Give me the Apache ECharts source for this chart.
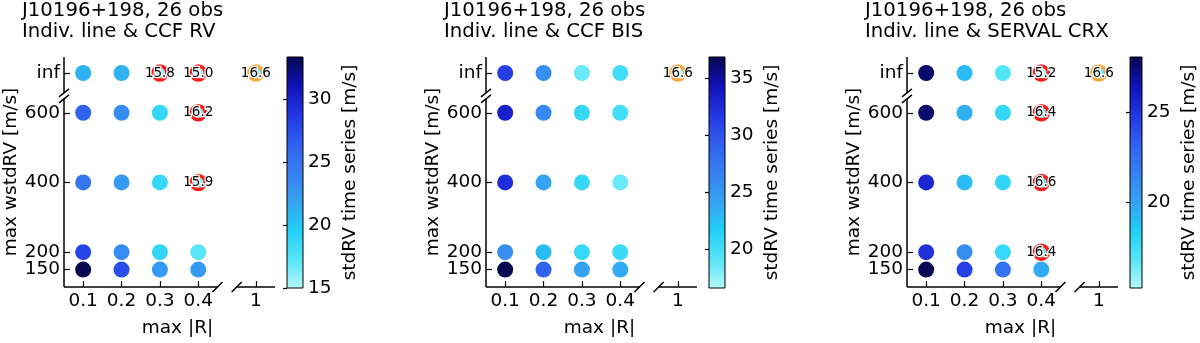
<!DOCTYPE html>
<html>
<head>
<meta charset="utf-8">
<script src="https://cdn.jsdelivr.net/npm/echarts@6/dist/echarts.min.js"></script>
<style>html,body{margin:0;padding:0;background:#fff}#c{width:1200px;height:343px}</style>
</head>
<body>
<div id="c"></div>
<script>
// ---------- data ----------
const titles = [
  'J10196+198, 26 obs\nIndiv. line & CCF RV',
  'J10196+198, 26 obs\nIndiv. line & CCF BIS',
  'J10196+198, 26 obs\nIndiv. line & SERVAL CRX'
];
const maxR = [0.1, 0.2, 0.3, 0.4];          // x categories
const maxWstdRV = [150, 200, 400, 600];     // y categories (finite)
const refRLabel = '1';
const infLabel = 'inf';
// rows: 150, 200, 400, 600, inf ; columns: maxR 0.1..0.4
const stdRV_ccfRV = [
  [33.4, 27.5, 22.4, 22.4],
  [27.9, 23.3, 19.0, 17.2],
  [25.0, 22.4, 18.7, 15.9],
  [26.4, 23.3, 18.7, 16.2],
  [21.1, 21.1, 15.8, 15.0]
];
const stdRV_ccfBIS = [
  [36.9, 29.2, 24.1, 23.7],
  [25.7, 22.7, 20.7, 20.5],
  [32.4, 24.1, 20.7, 18.6],
  [33.2, 26.1, 20.7, 20.1],
  [31.2, 25.7, 18.6, 20.1]
];
const stdRV_servalCRX = [
  [28.1, 24.5, 22.3, 19.8],
  [25.1, 21.0, 17.8, 16.4],
  [25.5, 19.1, 18.0, 16.6],
  [27.7, 19.5, 17.8, 16.4],
  [27.7, 19.1, 16.9, 15.2]
];
const refStdRV = [16.6, 16.6, 16.6];
const cbMin = [15.0, 16.6, 15.2];
const cbMax = [33.4, 36.9, 28.1];
const cbTicks = [[15, 20, 25, 30], [20, 25, 30, 35], [20, 25]];
const panelValues = [stdRV_ccfRV, stdRV_ccfBIS, stdRV_servalCRX];

// ---------- layout / scale config ----------
const FONT = 'DejaVu Sans';
const FS = 18.5;
const X_MIN = 0.05, X_MAX = 0.6, X_REF_POS = 0.55, X_BRK = [0.45, 0.50];
const Y_MIN = 100, Y_MAX = 760, Y_INF_POS = 714, Y_BRK = [640, 657];
const OFFS = [0, 422, 843];
const DOT = 16;
const RING = 14;
const cmap = ['#b3f8f8', '#56e5f8', '#22cff6', '#35a2f2', '#3680f1', '#3060ef', '#2336e2', '#0f12b8', '#070752'];

const chart = echarts.init(document.getElementById('c'));
const option = {
  animation: false,
  backgroundColor: '#fff',
  textStyle: { fontFamily: FONT },
  title: [], grid: [], xAxis: [], yAxis: [], series: [], visualMap: []
};

function fmtX(v) { return Math.abs(v - X_REF_POS) < 1e-9 ? refRLabel : v.toFixed(1); }
function fmtY(v) { return Math.abs(v - Y_INF_POS) < 1e-9 ? infLabel : String(v); }
const lblBase = { show: true, hideOverlap: false, showMinLabel: true, showMaxLabel: true, fontFamily: FONT, fontSize: FS, color: '#000' };

panelValues.forEach((vals, p) => {
  const o = OFFS[p];
  option.title.push({
    text: titles[p], left: 22 + o, top: 0, padding: 0,
    textStyle: { fontFamily: FONT, fontSize: 19.7, fontWeight: 'normal', color: '#000', lineHeight: 21 }
  });
  const gi = option.grid.length;
  option.grid.push({ left: 64 + o, top: 57, width: 211, height: 231 });
  option.grid.push({ left: 287 + o, top: 57, width: 16, height: 231, show: true, borderColor: '#000', borderWidth: 1, backgroundColor: 'transparent', z: 5 });
  const xTicks = maxR.concat([X_REF_POS]);
  const yTicks = maxWstdRV.concat([Y_INF_POS]);
  const xi = option.xAxis.length;
  option.xAxis.push({
    type: 'value', gridIndex: gi, min: X_MIN, max: X_MAX,
    name: 'max |R|', nameLocation: 'middle', nameGap: 32,
    nameTextStyle: { fontFamily: FONT, fontSize: FS, color: '#000', padding: [0, 0, 0, 16] },
    axisLine: { show: false }, splitLine: { show: false },
    axisTick: { show: true, inside: true, length: 6, customValues: xTicks, lineStyle: { color: '#000', width: 1.2 } },
    axisLabel: Object.assign({}, lblBase, { customValues: xTicks, formatter: fmtX, margin: 5 })
  });
  option.xAxis.push({ type: 'value', gridIndex: gi + 1, min: 0, max: 1, show: false });
  const yi = option.yAxis.length;
  // main y axis: ticks for all, labels for all but the lowest
  option.yAxis.push({
    type: 'value', gridIndex: gi, min: Y_MIN, max: Y_MAX, position: 'left', offset: 0,
    name: 'max wstdRV [m/s]', nameLocation: 'middle', nameGap: 42, nameRotate: 90,
    nameTextStyle: { fontFamily: FONT, fontSize: FS, color: '#000' },
    axisLine: { show: false }, splitLine: { show: false },
    axisTick: { show: true, inside: true, length: 6, customValues: yTicks, lineStyle: { color: '#000', width: 1.2 } },
    axisLabel: Object.assign({}, lblBase, { customValues: yTicks.slice(1), formatter: fmtY, margin: 4 })
  });
  // colorbar axis
  option.yAxis.push({
    type: 'value', gridIndex: gi + 1, position: 'right', min: cbMin[p], max: cbMax[p],
    name: 'stdRV time series [m/s]', nameLocation: 'middle', nameGap: 38, nameRotate: 90,
    nameTextStyle: { fontFamily: FONT, fontSize: FS, color: '#000' },
    axisLine: { show: false }, splitLine: { show: false },
    axisTick: { show: true, inside: true, length: 4, customValues: cbTicks[p], lineStyle: { color: '#000', width: 1.2 } },
    axisLabel: Object.assign({}, lblBase, { customValues: cbTicks[p], margin: 5 })
  });
  // companion y axis carrying only the lowest label (avoids overlap hiding)
  option.yAxis.push({
    type: 'value', gridIndex: gi, min: Y_MIN, max: Y_MAX, position: 'left', offset: 0,
    axisLine: { show: false }, splitLine: { show: false }, axisTick: { show: false },
    axisLabel: Object.assign({}, lblBase, { customValues: yTicks.slice(0, 1), formatter: fmtY, margin: 4 })
  });

  const ref = refStdRV[p];
  const normal = [], marked = [];
  const rows = maxWstdRV.concat([Y_INF_POS]);
  vals.forEach((row, ri) => {
    row.forEach((v, ci) => {
      const pt = [maxR[ci], rows[ri], v];
      if (v <= ref) marked.push(pt); else normal.push(pt);
    });
  });
  const sBase = option.series.length;
  const lbl = {
    show: true, position: 'inside', formatter: (d) => d.value[2].toFixed(1),
    fontFamily: FONT, fontSize: 13.5, color: '#000', textBorderColor: '#fff', textBorderWidth: 2.5
  };
  option.series.push({
    type: 'scatter', xAxisIndex: xi, yAxisIndex: yi, data: normal, symbolSize: DOT, z: 3,
    itemStyle: { opacity: 1 }, silent: true
  });
  option.series.push({
    type: 'scatter', xAxisIndex: xi, yAxisIndex: yi, data: marked, symbolSize: RING, z: 4,
    itemStyle: { opacity: 1, borderColor: '#ff1a1a', borderWidth: 3.5 }, label: lbl, silent: true
  });
  option.series.push({
    type: 'scatter', xAxisIndex: xi, yAxisIndex: yi, data: [[X_REF_POS, Y_INF_POS, ref]], symbolSize: RING, z: 4,
    itemStyle: { opacity: 1, borderColor: '#f8a93c', borderWidth: 3.5 }, label: lbl, silent: true
  });
  option.visualMap.push({
    type: 'continuous', show: false, min: cbMin[p], max: cbMax[p], dimension: 2,
    seriesIndex: [sBase, sBase + 1, sBase + 2], inRange: { color: cmap }
  });
  option.series.push({
    type: 'custom', xAxisIndex: xi, yAxisIndex: yi, silent: true, z: 6, clip: false,
    data: [[X_MIN, Y_MIN]],
    renderItem: (params, api) => {
      const c0 = api.coord([X_MIN, Y_MIN]);
      const cTop = api.coord([X_MIN, Y_MAX]);
      const cyb1 = api.coord([X_MIN, Y_BRK[0]]);
      const cyb2 = api.coord([X_MIN, Y_BRK[1]]);
      const cxb1 = api.coord([X_BRK[0], Y_MIN]);
      const cxb2 = api.coord([X_BRK[1], Y_MIN]);
      const cR = api.coord([X_MAX, Y_MIN]);
      const st = { stroke: '#000', lineWidth: 1.5 };
      const ln = (x1, y1, x2, y2) => ({ type: 'line', shape: { x1, y1, x2, y2 }, style: st });
      const d = 5;
      return {
        type: 'group', children: [
          ln(c0[0], c0[1], cyb1[0], cyb1[1]),
          ln(cyb2[0], cyb2[1], cTop[0], cTop[1]),
          ln(c0[0], c0[1], cxb1[0], cxb1[1]),
          ln(cxb2[0], cxb2[1], cR[0], cR[1]),
          ln(cyb1[0] - d, cyb1[1] + d * 0.8, cyb1[0] + d, cyb1[1] - d * 0.8),
          ln(cyb2[0] - d, cyb2[1] + d * 0.8, cyb2[0] + d, cyb2[1] - d * 0.8),
          ln(cxb1[0] - d, cxb1[1] + d, cxb1[0] + d, cxb1[1] - d),
          ln(cxb2[0] - d, cxb2[1] + d, cxb2[0] + d, cxb2[1] - d)
        ]
      };
    }
  });
  const stops = cmap.map((c, i) => ({ offset: i / (cmap.length - 1), color: c }));
  option.series.push({
    type: 'custom', xAxisIndex: xi + 1, yAxisIndex: yi + 1, silent: true, z: 1,
    data: [[0, cbMin[p]]],
    renderItem: (params, api) => {
      const a = api.coord([0, cbMax[p]]);
      const b = api.coord([1, cbMin[p]]);
      return {
        type: 'rect', shape: { x: a[0], y: a[1], width: b[0] - a[0], height: b[1] - a[1] },
        style: { fill: new echarts.graphic.LinearGradient(0, 1, 0, 0, stops) }
      };
    }
  });
});

chart.setOption(option);
</script>
</body>
</html>
